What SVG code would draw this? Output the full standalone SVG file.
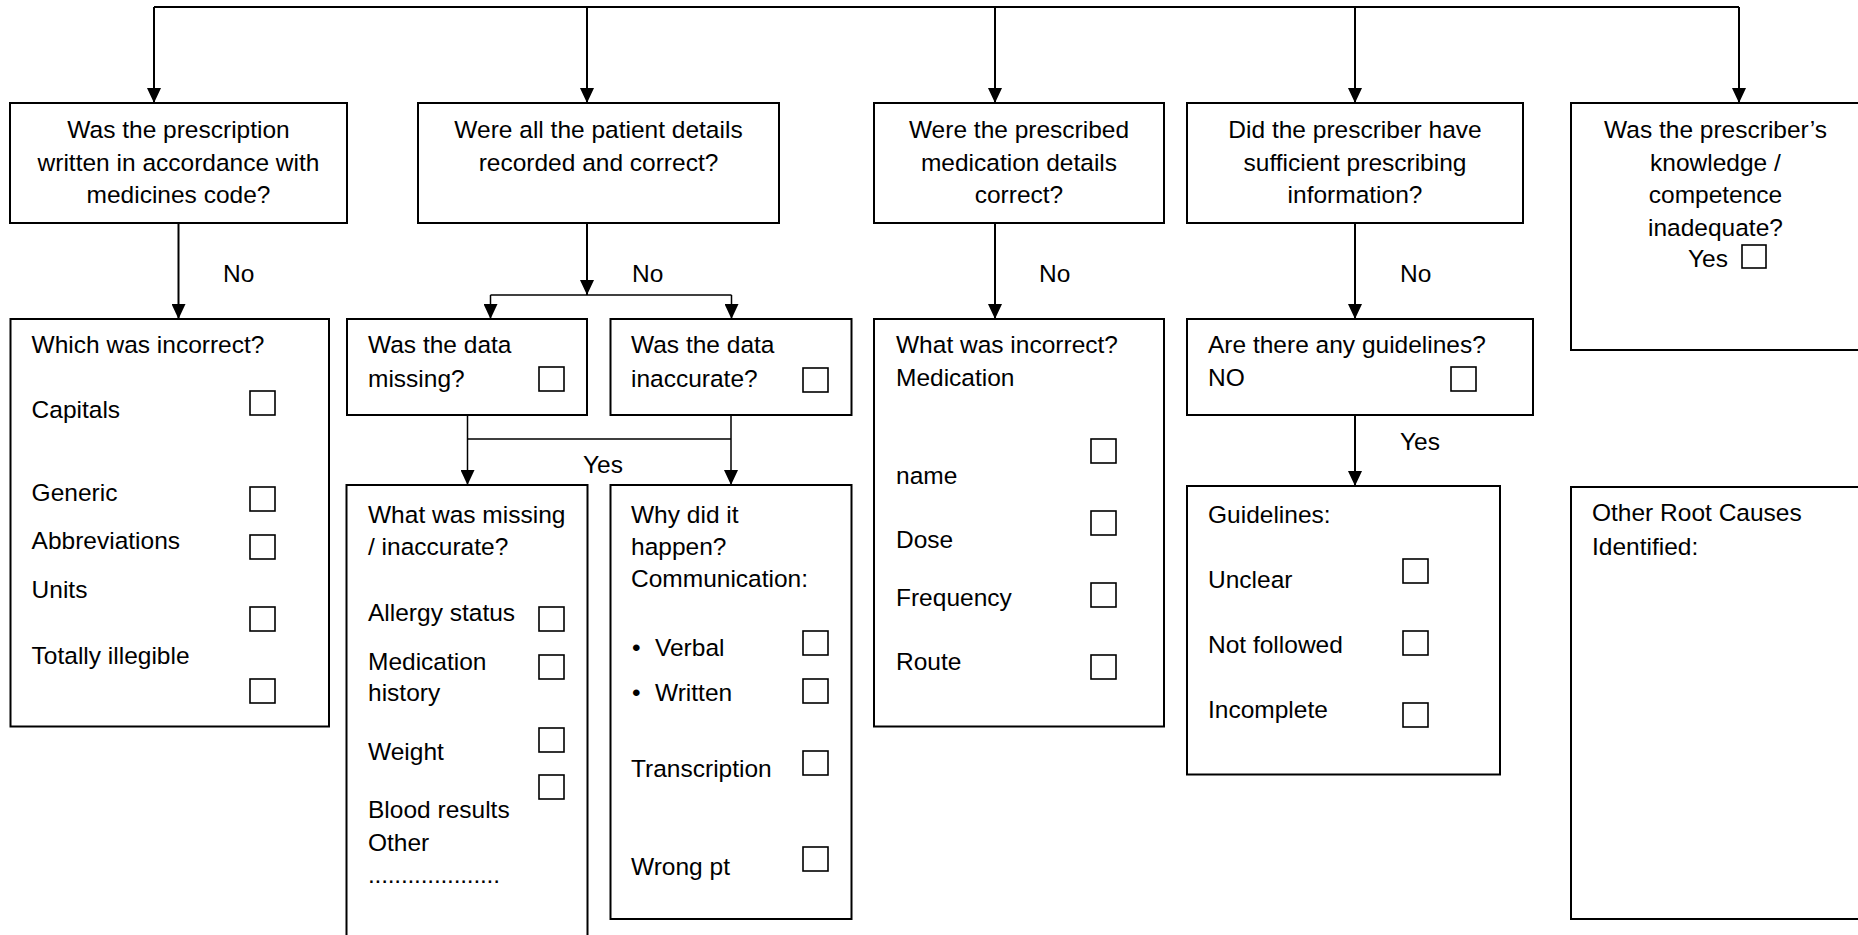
<svg xmlns="http://www.w3.org/2000/svg" width="1858" height="935" viewBox="0 0 1858 935">
<defs>
<marker id="arr" viewBox="0 0 15 14" refX="15" refY="7" markerWidth="15" markerHeight="14" markerUnits="userSpaceOnUse" orient="auto">
<path d="M0,0 L15,7 L0,14 z" fill="#000"/>
</marker>
<style>
text{font-family:"Liberation Sans",Arial,sans-serif;font-size:24.5px;fill:#000}
.c{text-anchor:middle}
.box{fill:#fff;stroke:#000;stroke-width:2}
.cb{fill:#fff;stroke:#000;stroke-width:1.6}
.ln{fill:none;stroke:#000;stroke-width:2}
.thin{fill:none;stroke:#000;stroke-width:1.5}
.ar{marker-end:url(#arr)}
</style>
</defs>
<rect width="1858" height="935" fill="#fff"/>

<g id="connectors">
<path class="ln" d="M154,7 H1739"/>
<path class="ln ar" d="M154,7 V103"/>
<path class="ln ar" d="M587,7 V103"/>
<path class="ln ar" d="M995,7 V103"/>
<path class="ln ar" d="M1355,7 V103"/>
<path class="ln ar" d="M1739,7 V103"/>
<path class="ln ar" d="M178.5,223 V319"/>
<path class="ln ar" d="M587,223 V295"/>
<path class="thin" d="M490.5,295 H731.5"/>
<path class="thin ar" d="M490.5,295 V319"/>
<path class="thin ar" d="M731.5,295 V319"/>
<path class="thin" d="M467.5,415 V439 M731,415 V439 M467.5,439 H731"/>
<path class="thin ar" d="M467.5,439 V485"/>
<path class="thin ar" d="M731,439 V485"/>
<path class="ln ar" d="M995,223 V319"/>
<path class="ln ar" d="M1355,223 V319"/>
<path class="ln ar" d="M1355,415 V486"/>
<text x="223" y="282">No</text>
<text x="632" y="282">No</text>
<text x="1039" y="282">No</text>
<text x="1400" y="282">No</text>
<text x="583" y="473">Yes</text>
<text x="1400" y="450">Yes</text>
</g>

<g id="q1">
<rect class="box" x="10" y="103" width="337" height="120"/>
<text class="c" x="178.5" y="138">Was the prescription</text>
<text class="c" x="178.5" y="170.5">written in accordance with</text>
<text class="c" x="178.5" y="203">medicines code?</text>
</g>

<g id="q2">
<rect class="box" x="418" y="103" width="361" height="120"/>
<text class="c" x="598.5" y="138">Were all the patient details</text>
<text class="c" x="598.5" y="170.5">recorded and correct?</text>
</g>

<g id="q3">
<rect class="box" x="874" y="103" width="290" height="120"/>
<text class="c" x="1019" y="138">Were the prescribed</text>
<text class="c" x="1019" y="170.5">medication details</text>
<text class="c" x="1019" y="203">correct?</text>
</g>

<g id="q4">
<rect class="box" x="1187" y="103" width="336" height="120"/>
<text class="c" x="1355" y="138">Did the prescriber have</text>
<text class="c" x="1355" y="170.5">sufficient prescribing</text>
<text class="c" x="1355" y="203">information?</text>
</g>

<g id="q5">
<rect class="box" x="1571" y="103" width="300" height="247"/>
<text class="c" x="1715.5" y="138">Was the prescriber’s</text>
<text class="c" x="1715.5" y="170.5">knowledge /</text>
<text class="c" x="1715.5" y="203">competence</text>
<text class="c" x="1715.5" y="235.5">inadequate?</text>
<text x="1688" y="267">Yes</text>
<rect class="cb" x="1742" y="245" width="24" height="23"/>
</g>

<g id="which-incorrect">
<rect class="box" x="10.5" y="319" width="318.5" height="407.5"/>
<text x="31.6" y="353">Which was incorrect?</text>
<text x="31.6" y="418">Capitals</text>
<rect class="cb" x="250" y="391" width="25" height="24"/>
<text x="31.6" y="501">Generic</text>
<rect class="cb" x="250" y="487" width="25" height="24"/>
<text x="31.6" y="549">Abbreviations</text>
<rect class="cb" x="250" y="535" width="25" height="24"/>
<text x="31.6" y="598">Units</text>
<rect class="cb" x="250" y="607" width="25" height="24"/>
<text x="31.6" y="664">Totally illegible</text>
<rect class="cb" x="250" y="679" width="25" height="24"/>
</g>

<g id="data-missing">
<rect class="box" x="347" y="319" width="240" height="96"/>
<text x="368" y="353">Was the data</text>
<text x="368" y="387">missing?</text>
<rect class="cb" x="539" y="367" width="25" height="24"/>
</g>

<g id="data-inaccurate">
<rect class="box" x="610.5" y="319" width="241" height="96"/>
<text x="631" y="353">Was the data</text>
<text x="631" y="387">inaccurate?</text>
<rect class="cb" x="803" y="368" width="25" height="24"/>
</g>

<g id="what-missing">
<rect class="box" x="346.5" y="485" width="241" height="470"/>
<text x="368" y="523">What was missing</text>
<text x="368" y="555">/ inaccurate?</text>
<text x="368" y="621">Allergy status</text>
<rect class="cb" x="539" y="607" width="25" height="24"/>
<text x="368" y="670">Medication</text>
<rect class="cb" x="539" y="655" width="25" height="24"/>
<text x="368" y="701">history</text>
<text x="368" y="760">Weight</text>
<rect class="cb" x="539" y="728" width="25" height="24"/>
<rect class="cb" x="539" y="775" width="25" height="24"/>
<text x="368" y="818">Blood results</text>
<text x="368" y="851">Other</text>
<text x="368" y="883" textLength="132" lengthAdjust="spacing">....................</text>
</g>

<g id="why-happen">
<rect class="box" x="610.5" y="485" width="241" height="434"/>
<text x="631" y="523">Why did it</text>
<text x="631" y="555">happen?</text>
<text x="631" y="587">Communication:</text>
<text x="632" y="656">•</text>
<text x="655" y="656">Verbal</text>
<rect class="cb" x="803" y="631" width="25" height="24"/>
<text x="632" y="701">•</text>
<text x="655" y="701">Written</text>
<rect class="cb" x="803" y="679" width="25" height="24"/>
<text x="631" y="777">Transcription</text>
<rect class="cb" x="803" y="751" width="25" height="24"/>
<text x="631" y="875">Wrong pt</text>
<rect class="cb" x="803" y="847" width="25" height="24"/>
</g>

<g id="med-incorrect">
<rect class="box" x="874" y="319" width="290" height="407.5"/>
<text x="896" y="353">What was incorrect?</text>
<text x="896" y="386">Medication</text>
<rect class="cb" x="1091" y="439" width="25" height="24"/>
<text x="896" y="484">name</text>
<rect class="cb" x="1091" y="511" width="25" height="24"/>
<text x="896" y="548">Dose</text>
<rect class="cb" x="1091" y="583" width="25" height="24"/>
<text x="896" y="606">Frequency</text>
<rect class="cb" x="1091" y="655" width="25" height="24"/>
<text x="896" y="670">Route</text>
</g>

<g id="any-guidelines">
<rect class="box" x="1187" y="319" width="346" height="96"/>
<text x="1208" y="353">Are there any guidelines?</text>
<text x="1208" y="386">NO</text>
<rect class="cb" x="1451" y="367" width="25" height="24"/>
</g>

<g id="guidelines">
<rect class="box" x="1187" y="486" width="313" height="288.5"/>
<text x="1208" y="523">Guidelines:</text>
<text x="1208" y="588">Unclear</text>
<rect class="cb" x="1403" y="559" width="25" height="24"/>
<text x="1208" y="653">Not followed</text>
<rect class="cb" x="1403" y="631" width="25" height="24"/>
<text x="1208" y="718">Incomplete</text>
<rect class="cb" x="1403" y="703" width="25" height="24"/>
</g>

<g id="other-causes">
<rect class="box" x="1571" y="487" width="300" height="432"/>
<text x="1592" y="521">Other Root Causes</text>
<text x="1592" y="555">Identified:</text>
</g>
</svg>
